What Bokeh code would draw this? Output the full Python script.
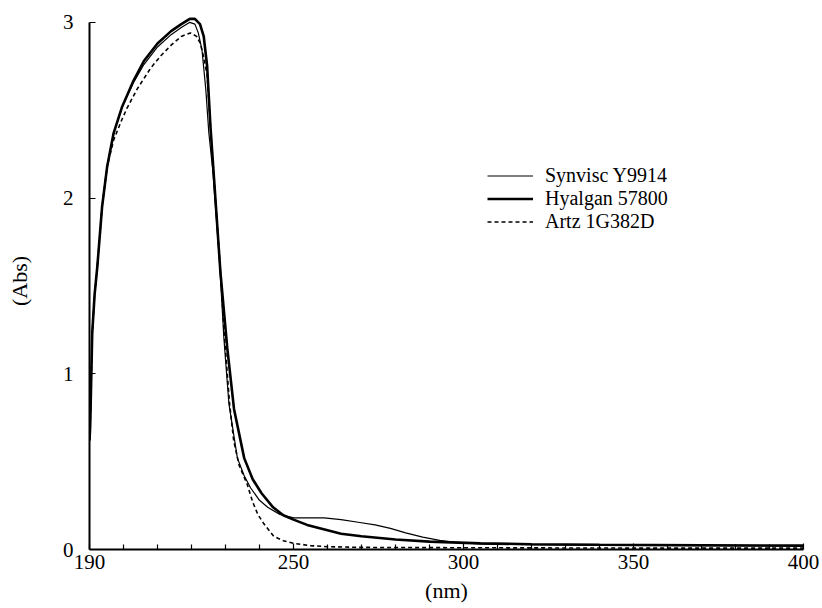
from bokeh.plotting import figure
from bokeh.models import FixedTicker, Legend, LegendItem, Range1d
from bokeh.embed import file_html
from bokeh.resources import INLINE

# wavelength (nm) / absorbance (Abs)
syn_x = [190, 190.2, 190.8, 191.5, 192.3, 193.7, 195.2, 197.1, 199.6, 203, 206, 210, 214, 217, 219.5,
         221, 222, 223.1, 224.2, 225.1, 226.3, 228.3, 229.5, 231, 233.5, 235.5, 237.4,
         240, 242.4, 246, 250, 255, 259, 264, 269, 274, 278.5, 283, 288, 293, 298,
         305, 320, 340, 370, 400]
syn_y = [0.62, 0.7, 1.23, 1.45, 1.61, 1.95, 2.18, 2.37, 2.52, 2.66, 2.76, 2.86, 2.93, 2.97, 3.0,
         2.99, 2.94, 2.84, 2.62, 2.37, 2.15, 1.62, 1.21, 0.83, 0.52, 0.42, 0.35,
         0.28, 0.24, 0.2, 0.18, 0.18, 0.18, 0.17, 0.155, 0.14, 0.12, 0.095, 0.07, 0.052, 0.04,
         0.032, 0.027, 0.024, 0.022, 0.02]

hya_x = [190, 190.2, 190.8, 191.5, 192.3, 193.7, 195.2, 197.1, 199.6, 203, 206, 210, 214, 217, 219.5,
         221, 222.5, 223.6, 224.6, 225.6, 226.6, 228.5, 230.5, 232.5, 235.5, 238,
         240.6, 244, 247, 250, 254, 258, 264, 270, 280, 290, 305, 320, 340, 370, 400]
hya_y = [0.62, 0.7, 1.23, 1.45, 1.61, 1.95, 2.18, 2.37, 2.52, 2.67, 2.78, 2.88, 2.95, 2.99, 3.02,
         3.02, 2.99, 2.92, 2.75, 2.4, 2.12, 1.58, 1.15, 0.8, 0.52, 0.4,
         0.32, 0.24, 0.195, 0.17, 0.14, 0.12, 0.09, 0.075, 0.057, 0.045, 0.035, 0.03, 0.027, 0.024, 0.022]

artz_x = [190, 190.2, 190.8, 191.5, 192.3, 193.7, 195.2, 197.1, 199.6, 201, 204, 208, 211, 214, 217,
          219.7, 221.5, 222.6, 223.6, 224.6, 225.6, 226.5, 228.4, 229.7, 231.2, 232.4,
          234, 236.4, 238, 239.5, 241.3, 244.2, 247, 250, 255, 260, 270, 300, 350, 400]
artz_y = [0.62, 0.7, 1.23, 1.45, 1.61, 1.95, 2.18, 2.33, 2.45, 2.51, 2.62, 2.74, 2.81, 2.87, 2.92,
          2.94, 2.92, 2.88, 2.8, 2.7, 2.4, 2.15, 1.62, 1.21, 0.83, 0.62,
          0.48, 0.37, 0.27, 0.2, 0.146, 0.075, 0.05, 0.035, 0.022, 0.016, 0.012, 0.01, 0.008, 0.008]

x_ticks = [190, 250, 300, 350, 400]
x_minor = [200, 210, 220, 230, 240, 260, 270, 280, 290, 310, 320, 330, 340, 360, 370, 380, 390]
y_ticks = [0, 1, 2, 3]
names = ["Synvisc Y9914", "Hyalgan 57800", "Artz 1G382D"]
x_title = "(nm)"
y_title = "(Abs)"

FONT = "Liberation Serif"

p = figure(width=822, height=608, output_backend="svg", toolbar_location=None,
           x_range=Range1d(190, 400), y_range=Range1d(0, 3.056),
           min_border_left=89, min_border_right=19, min_border_top=12, min_border_bottom=59)
p.outline_line_color = None
p.xgrid.grid_line_color = None
p.ygrid.grid_line_color = None
p.background_fill_color = "white"

r1 = p.line(syn_x, syn_y, line_color="black", line_width=1.2)
r2 = p.line(hya_x, hya_y, line_color="black", line_width=2.6)
r3 = p.line(artz_x, artz_y, line_color="black", line_width=1.6, line_dash="4 3")

xa = p.xaxis[0]
xa.ticker = FixedTicker(ticks=x_ticks, minor_ticks=x_minor)
xa.bounds = (190, 400)
xa.axis_line_width = 2
xa.axis_line_color = "black"
xa.major_tick_in = 6
xa.major_tick_out = 0
xa.minor_tick_in = 5
xa.minor_tick_out = 0
xa.major_tick_line_width = 1.2
xa.minor_tick_line_width = 1.2
xa.major_label_text_font = FONT
xa.major_label_text_font_size = "21px"
xa.major_label_text_color = "black"
xa.major_label_standoff = 5
xa.axis_label = x_title
xa.axis_label_text_font = FONT
xa.axis_label_text_font_size = "22px"
xa.axis_label_text_font_style = "normal"
xa.axis_label_text_color = "black"
xa.axis_label_standoff = 6

ya = p.yaxis[0]
ya.ticker = FixedTicker(ticks=y_ticks)
ya.bounds = (0, 3)
ya.axis_line_width = 2
ya.axis_line_color = "black"
ya.major_tick_in = 6
ya.major_tick_out = 0
ya.minor_tick_in = 0
ya.minor_tick_out = 0
ya.major_tick_line_width = 1.2
ya.major_label_text_font = FONT
ya.major_label_text_font_size = "21px"
ya.major_label_text_color = "black"
ya.major_label_standoff = 16
ya.axis_label = y_title
ya.axis_label_text_font = FONT
ya.axis_label_text_font_size = "22px"
ya.axis_label_text_font_style = "normal"
ya.axis_label_text_color = "black"
ya.axis_label_standoff = 28

legend = Legend(items=[LegendItem(label=names[0], renderers=[r1]),
                       LegendItem(label=names[1], renderers=[r2]),
                       LegendItem(label=names[2], renderers=[r3])],
                location=(398, 316), padding=0, margin=0, spacing=0,
                glyph_width=46, glyph_height=21, label_height=21, label_standoff=12,
                label_text_font=FONT, label_text_font_size="20px", label_text_color="black",
                border_line_color=None, background_fill_alpha=0)
p.add_layout(legend, "center")

open("out.html", "w").write(file_html(p, INLINE))
